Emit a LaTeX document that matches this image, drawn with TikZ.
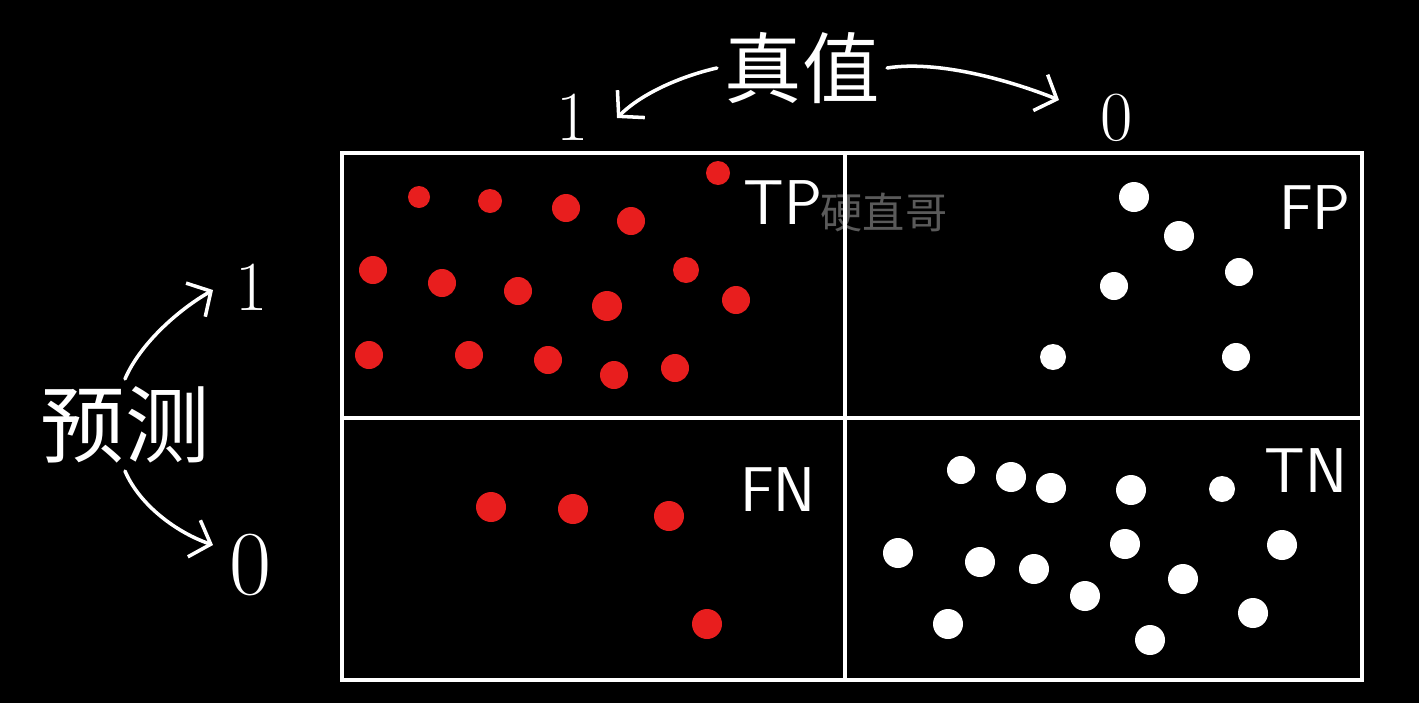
\documentclass[tikz,border=0pt]{standalone}
\usepackage{fontspec}
\newfontfamily\cjk{Noto Sans CJK SC}
\usetikzlibrary{positioning,arrows.meta}
\definecolor{dotred}{RGB}{232,30,30}
\definecolor{wmgray}{RGB}{90,90,90}

\begin{document}
\begin{tikzpicture}[
    x=0.01cm, y=-0.01cm,
    grid/.style={draw=white, line width=1.1pt},
    reddot/.style={fill=dotred},
    whitedot/.style={fill=white},
    quad/.style={text=white, font=\sffamily\fontsize{18}{18}\selectfont, inner sep=0pt},
    hand/.style={text=white, inner sep=2pt},
    bigword/.style={hand, font=\cjk\fontsize{22}{22}\selectfont},
    digit/.style={hand, font=\fontsize{20}{20}\selectfont},
    wmark/.style={text=wmgray, font=\cjk\fontsize{12}{12}\selectfont, inner sep=0pt},
    curly/.style={draw=white, line width=1pt, line cap=round, -{Straight Barb[length=5pt,width=11pt]}}
]

% background
\fill[black] (0,0) rectangle (1419,703);
\useasboundingbox (0,0) rectangle (1419,703);

% watermark
\node[wmark] (wm) at (884,212) {硬直哥};

% grid
\draw[grid] (342,153) rectangle (1362,680);
\draw[grid] (845,153) -- (845,680);
\draw[grid] (342,418) -- (1362,418);

% TP dots
\foreach \px/\py/\r in {419/197/11, 490/201/12, 566/208/14, 631/221/14, 718/173/12,
    373/270/14, 442/283/14, 518/291/14, 607/306/15, 686/270/13, 736/300/14,
    369/355/14, 469/355/14, 548/360/14, 614/375/14, 675/368/14}
  \fill[reddot] (\px,\py) circle (\r);

% FP dots
\foreach \px/\py/\r in {1134/197/15, 1179/236/15, 1239/272/14, 1114/286/14,
    1053/357/13, 1236/357/14}
  \fill[whitedot] (\px,\py) circle (\r);

% FN dots
\foreach \px/\py in {491/507, 573/509, 669/516, 707/624}
  \fill[reddot] (\px,\py) circle (15);

% TN dots
\foreach \px/\py/\r in {961/470/14, 1011/477/15, 1051/488/15, 1131/490/15, 1222/489/13,
    898/553/15, 980/562/15, 1034/569/15, 1125/544/15, 1183/579/15, 1282/545/15,
    1085/596/15, 948/624/15, 1150/640/15, 1253/613/15}
  \fill[whitedot] (\px,\py) circle (\r);

% quadrant labels
\node[quad] (tp) at (783,203) {TP};
\node[quad] (fp) at (1315,208) {FP};
\node[quad] (fn) at (778,490) {FN};
\node[quad] (tn) at (1306,471) {TN};

% true value (columns)
\node[bigword] (truth) at (802,68) {真值};
\node[digit] (t1) at (573,117) {1};
\node[digit] (t0) at (1117,118) {0};
\coordinate (t1tip) at (617,118);
\coordinate (t0tip) at (1059,100);
\draw[curly] (truth.west) .. controls +(-35,8) and +(25,-25) .. (t1tip);
\draw[curly] (truth.east) .. controls +(50,-8) and +(-50,-20) .. (t0tip);

% prediction (rows)
\node[bigword, font=\cjk\fontsize{24}{24}\selectfont] (pred) at (125,425) {预测};
\node[digit] (p1) at (252,287) {1};
\node[digit, font=\fontsize{26}{26}\selectfont] (p0) at (250,565) {0};
\coordinate (p1tip) at (213,290);
\coordinate (p0tip) at (213,545);
\draw[curly] (pred.north) .. controls +(15,-35) and +(-35,20) .. (p1tip);
\draw[curly] (pred.south) .. controls +(15,35) and +(-35,-12) .. (p0tip);

\end{tikzpicture}
\end{document}
